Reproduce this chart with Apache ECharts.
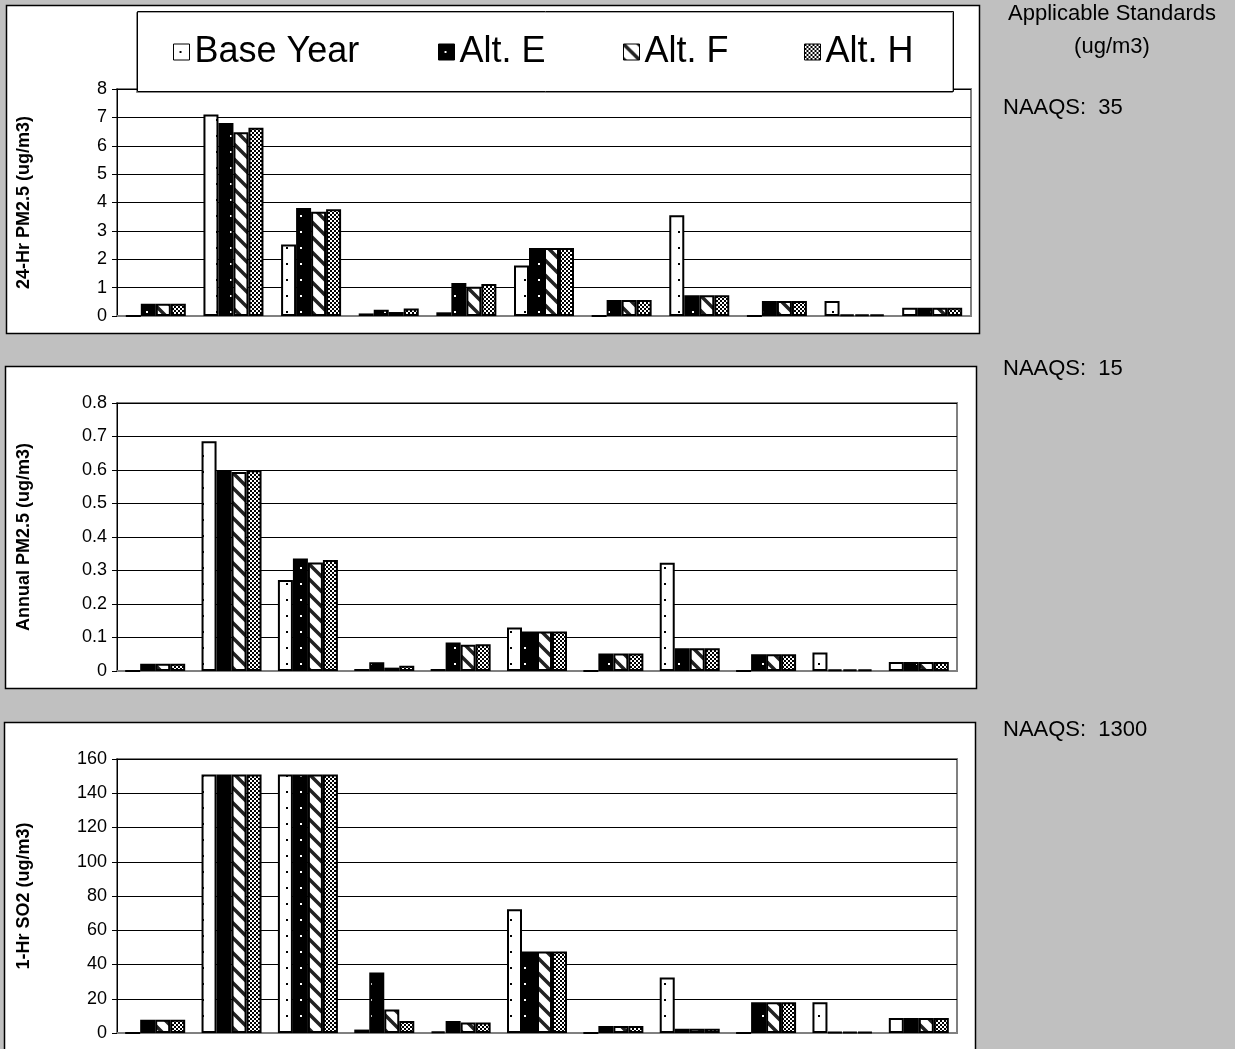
<!DOCTYPE html>
<html>
<head>
<meta charset="utf-8">
<script src="https://cdn.jsdelivr.net/npm/echarts@6/dist/echarts.min.js"></script>
<style>
html, body { margin: 0; padding: 0; background: #c0c0c0; }
#main { width: 1235px; height: 1049px; }
</style>
</head>
<body>
<div id="main"></div>
<script>
// legend names, 11 receptor sites (no labels shown on the x axis)
const seriesNames = ['Base Year', 'Alt. E', 'Alt. F', 'Alt. H']
const sites = ['1', '2', '3', '4', '5', '6', '7', '8', '9', '10', '11']

// 24-hr PM2.5
const pm24Base = [0, 7.1, 2.52, 0.09, 0.13, 1.78, 0, 3.55, 0, 0.53, 0.29]
const pm24AltE = [0.43, 6.8, 3.81, 0.22, 1.16, 2.4, 0.56, 0.73, 0.53, 0.05, 0.29]
const pm24AltF = [0.43, 6.48, 3.67, 0.14, 1.03, 2.4, 0.56, 0.73, 0.53, 0.05, 0.29]
const pm24AltH = [0.43, 6.63, 3.76, 0.26, 1.13, 2.4, 0.56, 0.73, 0.53, 0.05, 0.29]

// annual PM2.5
const pmAnnBase = [0, 0.686, 0.272, 0.006, 0.006, 0.13, 0, 0.323, 0, 0.055, 0.027]
const pmAnnAltE = [0.022, 0.6, 0.336, 0.026, 0.085, 0.118, 0.052, 0.068, 0.05, 0.005, 0.027]
const pmAnnAltF = [0.022, 0.594, 0.324, 0.01, 0.078, 0.118, 0.052, 0.068, 0.05, 0.005, 0.027]
const pmAnnAltH = [0.022, 0.599, 0.331, 0.016, 0.08, 0.118, 0.052, 0.068, 0.05, 0.005, 0.027]

// 1-hr SO2
const so2Base = [0, 151, 151, 2, 1, 72.2, 0, 32.4, 0, 18, 8.8]
const so2AltE = [7.8, 151, 151, 35.3, 7, 47.6, 4.1, 2.5, 18, 0.6, 8.8]
const so2AltF = [7.8, 151, 151, 13.7, 6.2, 47.6, 4.1, 2.5, 18, 0.6, 8.8]
const so2AltH = [7.8, 151, 151, 7, 6.2, 47.6, 4.1, 2.5, 18, 0.6, 8.8]

// axis titles / ranges
const axisTitles = ['24-Hr PM2.5 (ug/m3)', 'Annual PM2.5 (ug/m3)', '1-Hr SO2 (ug/m3)']
const axisMax = [8, 0.8, 160]
const axisStep = [1, 0.1, 20]
const standards = [35, 15, 1300]

const FONT = '"Liberation Sans", Arial, sans-serif'

// fill patterns like the old excel ones
const makePattern = (kind) => {
  const c = document.createElement('canvas')
  const ctx = c.getContext('2d')
  if (kind === 'dots' || kind === 'darkdots') {
    c.width = 14
    c.height = 16
    ctx.fillStyle = kind === 'dots' ? '#fff' : '#000'
    ctx.fillRect(0, 0, 14, 16)
    ctx.fillStyle = kind === 'dots' ? '#000' : '#fff'
    ctx.fillRect(6, 7, 2, 2)
  } else if (kind === 'stripes') {
    c.width = 15
    c.height = 15
    ctx.fillStyle = '#fff'
    ctx.fillRect(0, 0, 15, 15)
    ctx.strokeStyle = '#222'
    ctx.lineWidth = 3.5
    ctx.beginPath()
    ctx.moveTo(-3, -3); ctx.lineTo(18, 18)
    ctx.moveTo(-3, 12); ctx.lineTo(3, 18)
    ctx.moveTo(12, -3); ctx.lineTo(18, 3)
    ctx.stroke()
  } else {
    c.width = 4
    c.height = 4
    ctx.fillStyle = '#fff'
    ctx.fillRect(0, 0, 4, 4)
    ctx.fillStyle = '#000'
    ctx.fillRect(0, 0, 2, 2)
    ctx.fillRect(2, 2, 2, 2)
  }
  return { image: c, repeat: 'repeat' }
}
const fills = [makePattern('dots'), makePattern('darkdots'), makePattern('stripes'), makePattern('checker')]

const panelData = [
  [pm24Base, pm24AltE, pm24AltF, pm24AltH],
  [pmAnnBase, pmAnnAltE, pmAnnAltF, pmAnnAltH],
  [so2Base, so2AltE, so2AltF, so2AltH]
]

const grids = [
  { left: 117, top: 89, width: 854, height: 227 },
  { left: 117, top: 403, width: 840, height: 268 },
  { left: 117, top: 759, width: 840, height: 274 }
]

const xAxes = grids.map((g, i) => ({
  type: 'category',
  gridIndex: i,
  data: sites,
  axisLabel: { show: false },
  axisTick: { show: false },
  axisLine: { lineStyle: { color: '#808080', width: 2 } }
}))

const yAxes = grids.map((g, i) => ({
  type: 'value',
  gridIndex: i,
  min: 0,
  max: axisMax[i],
  interval: axisStep[i],
  name: axisTitles[i],
  nameLocation: 'middle',
  nameGap: 84,
  nameTextStyle: { fontFamily: FONT, fontWeight: 'bold', fontSize: 18, color: '#000' },
  axisLine: { show: true, lineStyle: { color: '#000', width: 1 } },
  axisTick: { show: true, length: 5, lineStyle: { color: '#000' } },
  axisLabel: { fontFamily: FONT, fontSize: 18, color: '#000', margin: 10 },
  splitLine: { lineStyle: { color: '#000', width: 1 } }
}))

const series = []
panelData.forEach((rows, p) => {
  rows.forEach((vals, s) => {
    series.push({
      name: seriesNames[s],
      type: 'bar',
      xAxisIndex: p,
      yAxisIndex: p,
      data: vals,
      barWidth: 15,
      barGap: '0%',
      itemStyle: { color: fills[s], borderColor: '#000', borderWidth: 2 },
      emphasis: { disabled: true }
    })
  })
})

// legend items sit at fixed spots inside the legend box
const legendLeft = [173, 438, 623, 804]
const legends = seriesNames.map((n, i) => ({
  data: [n],
  left: legendLeft[i],
  top: 34,
  padding: 0,
  icon: 'rect',
  itemWidth: 16,
  itemHeight: 16,
  z: 8,
  itemStyle: { borderWidth: 1, borderColor: '#000' },
  textStyle: { fontFamily: FONT, fontSize: 36, color: '#000', lineHeight: 36 }
}))

const panels = [
  { x: 6, y: 5, w: 973, h: 328 },
  { x: 5, y: 366, w: 971, h: 322 },
  { x: 4, y: 722, w: 971, h: 340 }
]
const graphic = panels.map((b) => ({
  type: 'rect',
  z: -10,
  shape: { x: b.x + 0.5, y: b.y + 0.5, width: b.w, height: b.h },
  style: { fill: '#fff', stroke: '#000', lineWidth: 1.5 }
}))
// legend box
graphic.push({
  type: 'rect',
  z: 7,
  shape: { x: 137.5, y: 11.5, width: 816, height: 80 },
  style: { fill: '#fff', stroke: '#000', lineWidth: 1, shadowColor: 'rgba(0,0,0,0.35)', shadowOffsetX: -1, shadowOffsetY: 1 }
})
graphic.push(
  { type: 'text', x: 1112, y: 14, style: { text: 'Applicable Standards', font: '22px ' + FONT, fill: '#000', textAlign: 'center', textVerticalAlign: 'middle' } },
  { type: 'text', x: 1112, y: 47, style: { text: '(ug/m3)', font: '22px ' + FONT, fill: '#000', textAlign: 'center', textVerticalAlign: 'middle' } }
)
const standardY = [108, 369, 730]
standards.forEach((v, i) => {
  graphic.push({
    type: 'text', x: 1003, y: standardY[i],
    style: { text: 'NAAQS:  ' + v, font: '22px ' + FONT, fill: '#000', textAlign: 'left', textVerticalAlign: 'middle' }
  })
})

const myChart = echarts.init(document.getElementById('main'))
const option = {
  backgroundColor: '#c0c0c0',
  animation: false,
  grid: grids.map((g) => ({ ...g, show: true, borderColor: '#808080', borderWidth: 2, backgroundColor: 'transparent' })),
  xAxis: xAxes,
  yAxis: yAxes,
  legend: legends,
  graphic: graphic,
  series: series
}
myChart.setOption(option)
</script>
</body>
</html>
